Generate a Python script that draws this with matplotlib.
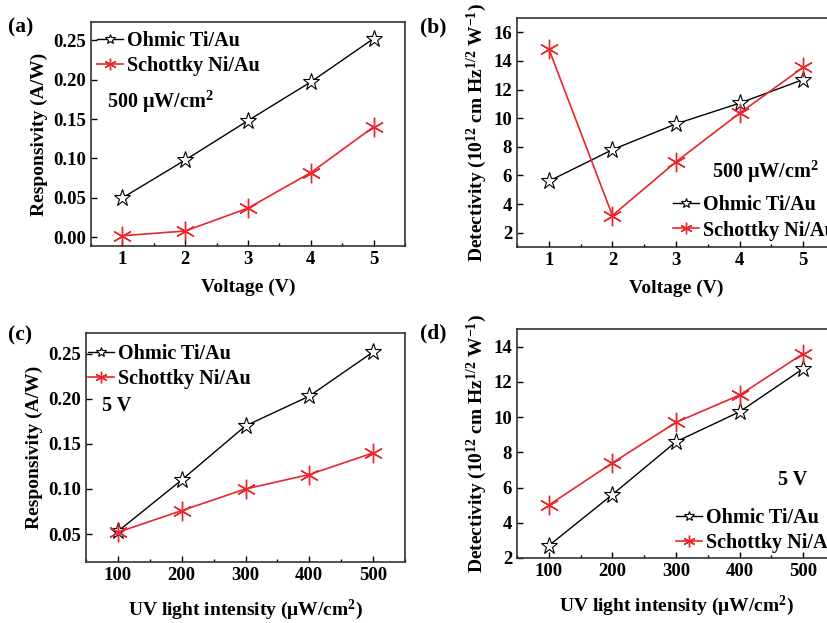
import matplotlib
matplotlib.use("Agg")
import matplotlib.pyplot as plt
from matplotlib.ticker import MultipleLocator

plt.rcParams["font.family"] = ["Liberation Serif", "DejaVu Serif"]
plt.rcParams["font.weight"] = "bold"
plt.rcParams["mathtext.fontset"] = "custom"
plt.rcParams["mathtext.rm"] = "Liberation Serif:bold"
plt.rcParams["mathtext.bf"] = "Liberation Serif:bold"
plt.rcParams["mathtext.it"] = "Liberation Serif:bold:italic"
plt.rcParams["mathtext.default"] = "rm"

# ---- data ----
voltage = [1, 2, 3, 4, 5]
intensity = [100, 200, 300, 400, 500]

resp_v_ohmic = [0.050, 0.098, 0.148, 0.197, 0.252]
resp_v_schottky = [0.002, 0.008, 0.037, 0.082, 0.140]

det_v_ohmic = [5.6, 7.8, 9.6, 11.05, 12.7]
det_v_schottky = [14.85, 3.2, 6.95, 10.35, 13.55]

resp_i_ohmic = [0.053, 0.110, 0.170, 0.203, 0.252]
resp_i_schottky = [0.052, 0.076, 0.100, 0.116, 0.140]

det_i_ohmic = [2.7, 5.6, 8.6, 10.3, 12.75]
det_i_schottky = [5.0, 7.4, 9.7, 11.25, 13.6]

LAB_OHM = "Ohmic Ti/Au"
LAB_SCH = "Schottky Ni/Au"
RED = "#e8262b"
ASTER = (6, 2, 0)
FS_TICK = 13.5
FS_LAB = 14
FS_TXT = 14.5

W, H = 827, 623
fig = plt.figure(figsize=(W / 100, H / 100), dpi=100)


def px_axes(left, top, right, bottom):
    return fig.add_axes([left / W, 1 - bottom / H, (right - left) / W, (bottom - top) / H])


def draw(ax, x, ohm, sch):
    ax.plot(x, ohm, color="black", lw=1.0, marker="*", ms=12.5, mfc="white",
            mec="black", mew=0.8, label=LAB_OHM)
    ax.plot(x, sch, color=RED, lw=1.2, marker=ASTER, ms=14, mec=RED, mew=1.0,
            label=LAB_SCH)


def style(ax):
    for s in ax.spines.values():
        s.set_linewidth(1.2)
        s.set_color("#333333")
    ax.tick_params(which="both", direction="in", labelsize=FS_TICK, width=1.0)
    ax.tick_params(which="major", length=4)
    ax.tick_params(which="minor", length=2.5)
    for lab in ax.get_xticklabels() + ax.get_yticklabels():
        lab.set_fontweight("bold")


def legend(ax, anchor):
    ax.legend(loc="upper left", bbox_to_anchor=anchor, frameon=False,
              handlelength=1.3, handletextpad=0.2, borderaxespad=0, borderpad=0,
              labelspacing=0.25, markerscale=0.6,
              prop={"weight": "bold", "size": FS_TXT})


det_label = r"Detectivity (10$^{12}$ cm Hz$^{1/2}$ W$^{-1}$)"

# (a)
ax = px_axes(91, 22, 405, 246)
draw(ax, voltage, resp_v_ohmic, resp_v_schottky)
ax.set_xlim(0.5, 5.5)
ax.set_ylim(-0.011, 0.273)
ax.xaxis.set_major_locator(MultipleLocator(1))
ax.xaxis.set_minor_locator(MultipleLocator(0.5))
ax.yaxis.set_major_locator(MultipleLocator(0.05))
ax.yaxis.set_major_formatter(plt.FormatStrFormatter("%.2f"))
ax.set_xlabel("Voltage (V)", fontsize=FS_LAB, fontweight="bold", labelpad=8)
ax.set_ylabel("Responsivity (A/W)", fontsize=FS_LAB, fontweight="bold", labelpad=4)
legend(ax, (0.02, 0.96))
ax.text(0.05, 0.645, "500 μW/cm$^{2}$", transform=ax.transAxes, fontsize=FS_TXT,
        fontweight="bold", va="center")
style(ax)
fig.text(8 / W, 1 - 27 / H, "(a)", fontsize=15.5, fontweight="bold", va="center")

# (b)
ax = px_axes(517, 18, 835, 247)
draw(ax, voltage, det_v_ohmic, det_v_schottky)
ax.set_xlim(0.5, 5.5)
ax.set_ylim(1.0, 17.0)
ax.xaxis.set_major_locator(MultipleLocator(1))
ax.xaxis.set_minor_locator(MultipleLocator(0.5))
ax.yaxis.set_major_locator(MultipleLocator(2))
ax.yaxis.set_major_formatter(plt.FormatStrFormatter("%d"))
ax.set_xlabel("Voltage (V)", fontsize=FS_LAB, fontweight="bold", labelpad=8)
ax.set_ylabel(det_label, fontsize=FS_LAB, fontweight="bold", labelpad=3)
legend(ax, (0.49, 0.225))
ax.text(0.613, 0.33, "500 μW/cm$^{2}$", transform=ax.transAxes, fontsize=FS_TXT,
        fontweight="bold", va="center")
style(ax)
fig.text(420 / W, 1 - 27 / H, "(b)", fontsize=15.5, fontweight="bold", va="center")

# (c)
ax = px_axes(86, 333, 405, 562)
draw(ax, intensity, resp_i_ohmic, resp_i_schottky)
ax.set_xlim(50, 550)
ax.set_ylim(0.019, 0.273)
ax.xaxis.set_major_locator(MultipleLocator(100))
ax.xaxis.set_minor_locator(MultipleLocator(50))
ax.yaxis.set_major_locator(MultipleLocator(0.05))
ax.yaxis.set_major_formatter(plt.FormatStrFormatter("%.2f"))
ax.set_xlabel("UV light intensity (μW/cm$^{2}$)", fontsize=FS_LAB, fontweight="bold",
              labelpad=10)
ax.set_ylabel("Responsivity (A/W)", fontsize=FS_LAB, fontweight="bold", labelpad=4)
legend(ax, (0.005, 0.95))
ax.text(0.05, 0.68, "5 V", transform=ax.transAxes, fontsize=FS_TXT,
        fontweight="bold", va="center")
style(ax)
fig.text(8 / W, 1 - 335 / H, "(c)", fontsize=15.5, fontweight="bold", va="center")

# (d)
ax = px_axes(517, 329, 835, 558)
draw(ax, intensity, det_i_ohmic, det_i_schottky)
ax.set_xlim(50, 550)
ax.set_ylim(2.0, 15.0)
ax.xaxis.set_major_locator(MultipleLocator(100))
ax.xaxis.set_minor_locator(MultipleLocator(50))
ax.yaxis.set_major_locator(MultipleLocator(2))
ax.yaxis.set_major_formatter(plt.FormatStrFormatter("%d"))
ax.set_xlabel("UV light intensity (μW/cm$^{2}$)", fontsize=FS_LAB, fontweight="bold",
              labelpad=10)
ax.set_ylabel(det_label, fontsize=FS_LAB, fontweight="bold", labelpad=3)
legend(ax, (0.50, 0.22))
ax.text(0.82, 0.34, "5 V", transform=ax.transAxes, fontsize=FS_TXT,
        fontweight="bold", va="center")
style(ax)
fig.text(420 / W, 1 - 333 / H, "(d)", fontsize=15.5, fontweight="bold", va="center")

fig.savefig("out.png", dpi=100)
